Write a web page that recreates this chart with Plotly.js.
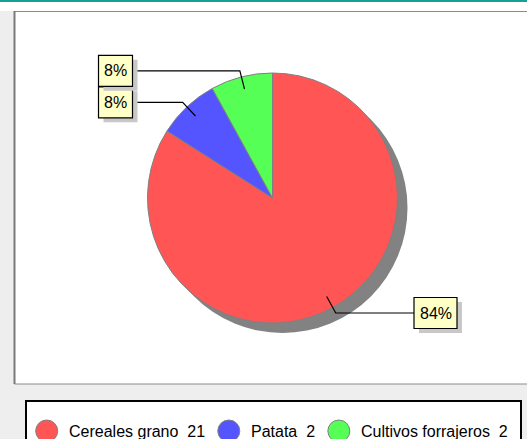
<!DOCTYPE html>
<html>
<head>
<meta charset="utf-8">
<script src="https://cdn.plot.ly/plotly-3.0.1.min.js"></script>
<style>html,body{margin:0;padding:0;background:#fff;}#chart{width:527px;height:439px;}</style>
</head>
<body>
<div id="chart"></div>
<script>
// ---- data ----
const categories = ['Cereales grano', 'Patata', 'Cultivos forrajeros'];
const values = [21, 2, 2];
const colors = ['#ff5555', '#5555ff', '#55ff55'];

// ---- geometry / style constants ----
const W = 527, H = 439;
const CX = 272.5, CY = 198, R = 125;
const FONT = 'Arial, "Liberation Sans", sans-serif';
const px = x => x / W;
const py = y => 1 - y / H;

const total = values.reduce((a, b) => a + b, 0);
const pctLabels = values.map(v => Math.round(v / total * 100) + '%');

const cv = document.createElement('canvas').getContext('2d');
cv.font = '16px "Liberation Sans", Arial';
const tw = s => cv.measureText(s).width;

const shapes = [];
const annotations = [];

// background pieces
shapes.push({type:'rect', xref:'paper', yref:'paper', x0:0, x1:1, y0:py(11), y1:py(-2), fillcolor:'#ffffff', line:{width:0}, layer:'below'});
shapes.push({type:'rect', xref:'paper', yref:'paper', x0:0, x1:1, y0:py(2), y1:py(-2), fillcolor:'#16a096', line:{width:0}, layer:'below'});
shapes.push({type:'rect', xref:'paper', yref:'paper', x0:px(14.5), x1:px(545), y0:py(384), y1:py(11.5), fillcolor:'#ffffff', line:{color:'#8c8c8c', width:1}, layer:'below'});
shapes.push({type:'line', xref:'paper', yref:'paper', x0:px(14.5), x1:px(14.5), y0:py(384), y1:py(11), line:{color:'#7a7a7a', width:2}, layer:'below'});
// pie shadow
shapes.push({type:'circle', xref:'paper', yref:'paper', x0:px(CX - R + 10), x1:px(CX + R + 10), y0:py(CY + R + 10), y1:py(CY - R + 10), fillcolor:'#828282', line:{width:0}, layer:'below'});

// slice labels with elbow leader lines
let cum = 0;
values.forEach((v, i) => {
  const ang = (cum + v / 2) / total * 2 * Math.PI;
  cum += v;
  const sx = Math.sin(ang), sy = -Math.cos(ang);
  const x1 = CX + sx * R * 0.9, y1 = CY + sy * R * 0.9;
  const x2 = CX + sx * R * 1.05, y2 = CY + sy * R * 1.05;
  const right = sx >= 0;
  const x3 = right ? CX + 141.5 : CX - 140;
  shapes.push({type:'path', xref:'paper', yref:'paper',
    path:`M ${px(x1)} ${py(y1)} L ${px(x2)} ${py(y2)} L ${px(x3)} ${py(y2)}`,
    line:{color:'#000000', width:1.2}, layer:'above'});
  const txt = pctLabels[i];
  const bw = Math.round(tw(txt) + 11), bh = 31;
  const bx0 = right ? x3 : x3 - bw;
  const by0 = y2 - bh / 2;
  shapes.push({type:'rect', xref:'paper', yref:'paper', x0:px(bx0 + 5), x1:px(bx0 + bw + 5), y0:py(by0 + bh + 4.5), y1:py(by0 + 4.5), fillcolor:'#c8c8c8', line:{width:0}, layer:'above'});
  shapes.push({type:'rect', xref:'paper', yref:'paper', x0:px(bx0), x1:px(bx0 + bw), y0:py(by0 + bh), y1:py(by0), fillcolor:'#ffffc8', line:{color:'#000000', width:1.2}, layer:'above'});
  annotations.push({xref:'paper', yref:'paper', x:px(bx0 + bw / 2), y:py(y2), xanchor:'center', yanchor:'middle',
    text: txt, showarrow:false, borderpad:0, font:{family:FONT, size:16, color:'#000000'}});
});

// legend
shapes.push({type:'rect', xref:'paper', yref:'paper', x0:px(26), x1:px(521), y0:py(450), y1:py(401), fillcolor:'#ffffff', line:{color:'#000000', width:2}, layer:'below'});
let lx = 35.7;
const LY = 431;
categories.forEach((c, i) => {
  shapes.push({type:'circle', xref:'paper', yref:'paper', x0:px(lx), x1:px(lx + 22), y0:py(LY + 11), y1:py(LY - 11), fillcolor:colors[i], line:{color:'#808080', width:1}, layer:'above'});
  const t = c + '\u00a0\u00a0' + values[i];
  const tx = lx + 32;
  annotations.push({xref:'paper', yref:'paper', x:px(tx), y:py(LY), xanchor:'left', yanchor:'middle', text:t, showarrow:false,
    font:{family:FONT, size:16, color:'#000000'}, borderpad:0});
  lx = tx + tw(t) + 14;
});

const trace = {
  type:'pie', labels:categories, values:values, sort:false, direction:'clockwise', rotation:0,
  marker:{colors:colors, line:{color:'#808080', width:1}},
  textinfo:'none', hoverinfo:'none', showlegend:false,
  domain:{x:[px(CX - R), px(CX + R)], y:[py(CY + R), py(CY - R)]}
};

Plotly.newPlot('chart', [trace], {
  width:W, height:H, autosize:false,
  margin:{l:0, r:0, t:0, b:0, pad:0},
  paper_bgcolor:'#eeeeee', plot_bgcolor:'#eeeeee',
  showlegend:false, shapes:shapes, annotations:annotations
}, {displayModeBar:false, staticPlot:true});
</script>
</body>
</html>
